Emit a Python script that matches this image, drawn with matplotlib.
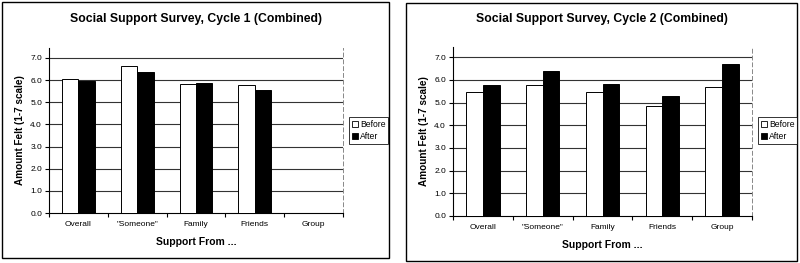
import matplotlib
matplotlib.use("Agg")
import matplotlib.pyplot as plt
from matplotlib.patches import Rectangle, Patch
import numpy as np

categories = ["Overall", '"Someone"', "Family", "Friends", "Group"]
cycle1_before = [6.05, 6.62, 5.81, 5.77, np.nan]
cycle1_after = [5.96, 6.38, 5.88, 5.57, np.nan]
cycle2_before = [5.45, 5.77, 5.45, 4.86, 5.69]
cycle2_after = [5.79, 6.37, 5.82, 5.30, 6.71]
titles = ["Social Support Survey, Cycle 1 (Combined)", "Social Support Survey, Cycle 2 (Combined)"]
yticks = [0, 1, 2, 3, 4, 5, 6, 7]

plt.rcParams["font.family"] = ["Liberation Sans", "DejaVu Sans"]

W, H = 800, 263
fig = plt.figure(figsize=(W / 100, H / 100), dpi=100)


def px(x0, y0, x1, y1):
    # pixel box (top-left origin) -> figure fraction
    return [x0 / W, 1 - y1 / H, (x1 - x0) / W, (y1 - y0) / H]


panels = [
    dict(border=(2, 2, 389, 258), ax=(49, 48, 343, 213), legend=(349, 117), title_y=19, xlabel_y=242,
         before=cycle1_before, after=cycle1_after),
    dict(border=(406, 3, 797, 261), ax=(453, 47, 752, 216), legend=(758, 117), title_y=19, xlabel_y=245,
         before=cycle2_before, after=cycle2_after),
]

for title, p in zip(titles, panels):
    bx0, by0, bx1, by1 = p["border"]
    fig.patches.append(Rectangle((bx0 / W, 1 - by1 / H), (bx1 - bx0) / W, (by1 - by0) / H,
                                 transform=fig.transFigure, fill=False, edgecolor="black", linewidth=1.0))
    ax = fig.add_axes(px(*p["ax"]))
    x = np.arange(len(categories))
    w = 0.28
    ax.bar(x - w / 2, p["before"], w, color="white", edgecolor="black", linewidth=0.7, zorder=3)
    ax.bar(x + w / 2, p["after"], w, color="black", edgecolor="black", linewidth=0.7, zorder=3)
    ax.set_xlim(-0.5, len(categories) - 0.5)
    ax.set_ylim(0, 7.45)
    ax.set_yticks(yticks)
    ax.set_yticklabels([f"{v:.1f}" for v in yticks], fontsize=6)
    ax.set_xticks(x)
    ax.set_xticklabels(categories, fontsize=6)
    ax.set_xticks(np.arange(len(categories) + 1) - 0.5, minor=True)
    ax.tick_params(axis="x", which="major", length=0, pad=6)
    ax.tick_params(axis="x", which="minor", length=3, direction="out", width=0.8)
    ax.tick_params(axis="y", length=3, width=0.8, pad=2)
    for v in yticks[1:]:
        ax.axhline(v, color="#333333", linewidth=0.8, zorder=1)
    ax.spines["top"].set_visible(False)
    ax.spines["right"].set_linestyle((0, (4, 3)))
    ax.spines["right"].set_color("#888888")
    ax.spines["right"].set_linewidth(0.7)
    ax.spines["left"].set_linewidth(0.8)
    ax.spines["bottom"].set_linewidth(0.8)
    ax.set_ylabel("Amount Felt (1-7 scale)", fontsize=7.2, fontweight="bold", labelpad=4)

    cx = (bx0 + bx1) / 2
    fig.text(cx / W, 1 - p["title_y"] / H, title, ha="center", va="center", fontsize=8.8, fontweight="bold")
    ax_cx = (p["ax"][0] + p["ax"][2]) / 2
    fig.text(ax_cx / W, 1 - p["xlabel_y"] / H, "Support From ...", ha="center", va="center",
             fontsize=7.5, fontweight="bold")

    lx, ly = p["legend"]
    handles = [Patch(facecolor="white", edgecolor="black", linewidth=0.6, label="Before"),
               Patch(facecolor="black", edgecolor="black", linewidth=0.6, label="After")]
    leg = fig.legend(handles=handles, loc="upper left", bbox_to_anchor=(lx / W, 1 - ly / H),
                     fontsize=6.2, frameon=True, fancybox=False, handlelength=0.7, handleheight=0.7,
                     handletextpad=0.3, borderpad=0.3, labelspacing=0.4, borderaxespad=0)
    leg.get_frame().set_edgecolor("black")
    leg.get_frame().set_linewidth(0.7)

fig.savefig("out.png", dpi=100)
